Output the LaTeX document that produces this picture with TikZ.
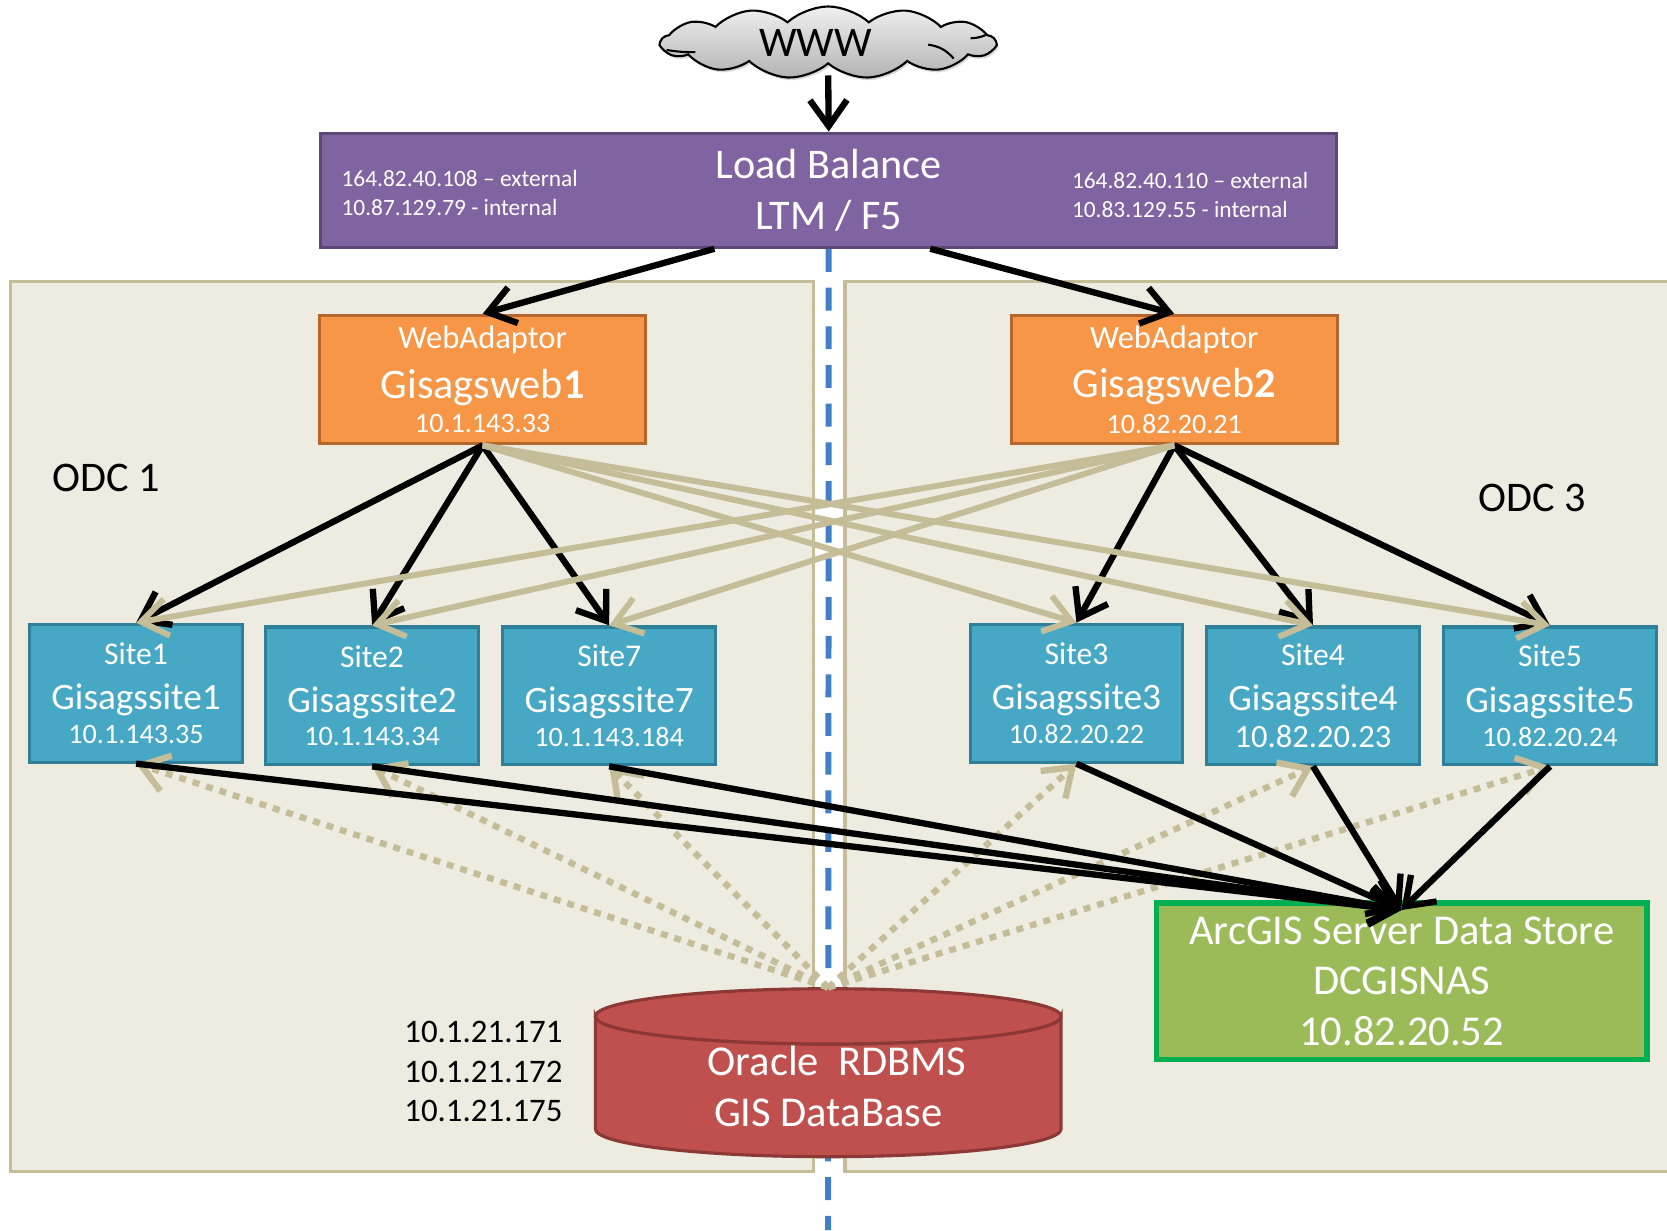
\documentclass[tikz,border=0pt]{standalone}
\usepackage{fontspec}
\setmainfont{Carlito}
\usetikzlibrary{arrows.meta,shapes.symbols,shadows}
\definecolor{panelfill}{HTML}{EEECE1}
\definecolor{tanline}{HTML}{C4BD97}
\definecolor{lbfill}{HTML}{8064A2}
\definecolor{lbline}{HTML}{5C4776}
\definecolor{webfill}{HTML}{F79646}
\definecolor{webline}{HTML}{B5662C}
\definecolor{sitefill}{HTML}{47A8C5}
\definecolor{siteline}{HTML}{2F7F98}
\definecolor{storefill}{HTML}{9BBB59}
\definecolor{storeline}{HTML}{00B050}
\definecolor{dbfill}{HTML}{C0504D}
\definecolor{dbline}{HTML}{8C3836}
\definecolor{midline}{HTML}{4080C8}
\newcommand{\fs}[1]{\fontsize{#1}{#1}\selectfont}
\begin{document}
\begin{tikzpicture}[x=0.02126cm,y=-0.02126cm]
        \tikzstyle{panel}=[draw=tanline,line width=2pt,fill=panelfill]
        \tikzstyle{box}=[draw,rectangle,inner sep=0,align=center,text=white]
        \tikzstyle{lb box}=[box,fill=lbfill,draw=lbline,line width=1.8pt,minimum width=578pt,minimum height=65pt]
        \tikzstyle{web box}=[box,fill=webfill,draw=webline,line width=1.8pt,minimum width=185.6pt,minimum height=73pt]
        \tikzstyle{site box}=[box,fill=sitefill,draw=siteline,line width=1.8pt,minimum width=121pt,minimum height=78.4pt]
        \tikzstyle{store box}=[box,fill=storefill,draw=storeline,line width=3pt,minimum width=279pt,minimum height=89pt]
        \tikzstyle{plain text}=[inner sep=0,align=left,text=black]
        \tikzstyle{small white}=[inner sep=0,align=left,text=white,anchor=west]
        \tikzstyle{db shape}=[draw=dbline,line width=1.8pt,fill=dbfill]
        \tikzstyle{black arrow}=[draw=black,line width=3.6pt,-{Straight Barb[length=5.2mm,width=7.4mm]}]
        \tikzstyle{tan arrow}=[draw=tanline,line width=3.4pt,-{Straight Barb[length=5.2mm,width=7.4mm]}]
        \tikzstyle{dotted arrow}=[draw=tanline,line width=3.6pt,dash pattern=on 4pt off 4pt,-{Straight Barb[length=5.2mm,width=7.4mm]}]

        \useasboundingbox (0,0) rectangle (1568,1157);
        \clip (0,0) rectangle (1568,1157);
        \fill[white] (0,0) rectangle (1568,1157);

        \draw[panel] (10,265) rectangle (765,1102);
        \draw[panel] (795,265) rectangle (1600,1102);

        \node(www)[cloud,cloud puffs=13,cloud puff arc=85,aspect=5.2,draw=black,line width=1.2pt,top color=gray!12,bottom color=gray!60,drop shadow={opacity=0.3,shadow xshift=1pt,shadow yshift=-1.5pt},inner sep=0,minimum width=190pt,minimum height=41pt] at (779,40){};
        \node(wwwtext)[inner sep=0,font=\fs{24}] at (767,40){WWW};
        \draw[line width=1.2pt] (627,47) to[bend right=5] (654,49);
        \draw[line width=1.2pt] (873,42) to[bend left=20] (897,55);
        \draw[line width=1.2pt] (913,36) to[bend right=10] (927,33);
        \node(lb)[lb box,font=\fs{24}] at (779.5,179){Load Balance\\[5pt]LTM / F5};
        \node(lbext1)[small white,font=\fs{13.3}] at (321,168){164.82.40.108 – external};
        \node(lbint1)[small white,font=\fs{13.3}] at (321,195){10.87.129.79 - internal};
        \node(lbext2)[small white,font=\fs{13.3}] at (1008,170){164.82.40.110 – external};
        \node(lbint2)[small white,font=\fs{13.3}] at (1008,197){10.83.129.55 - internal};

        \coordinate(lineend) at (779,1157);
        \draw[midline,line width=3.4pt,dash pattern=on 13pt off 9pt] (lb.south) -- (lineend);

        \node(web1)[web box] at (454,357){\fs{18.5}WebAdaptor\\[7.5pt]\fs{24}Gisagsweb\textbf{1}\\[4.2pt]\fs{16}10.1.143.33};
        \node(web2)[web box] at (1104.5,357){\fs{18.5}WebAdaptor\\[7.5pt]\fs{24}Gisagsweb\textbf{2}\\[4.2pt]\fs{16}10.82.20.21};

        \node(site1)[site box] at (128,652){\fs{18}Site1\\[10pt]\fs{21.2}Gisagssite1\\[4pt]\fs{16}10.1.143.35};
        \node(site2)[site box] at (350,654.5){\fs{18}Site2\\[10pt]\fs{21.2}Gisagssite2\\[4pt]\fs{16}10.1.143.34};
        \node(site7)[site box] at (573,654.5){\fs{18}Site7\\[10pt]\fs{21.2}Gisagssite7\\[4pt]\fs{16}10.1.143.184};
        \node(site3)[site box] at (1012.5,652){\fs{18}Site3\\[10pt]\fs{21.2}Gisagssite3\\[4pt]\fs{16}10.82.20.22};
        \node(site4)[site box] at (1235,654.5){\fs{18}Site4\\[10pt]\fs{21.2}Gisagssite4\\[4pt]\fs{18.5}10.82.20.23};
        \node(site5)[site box] at (1458,654.5){\fs{18}Site5\\[10pt]\fs{21.2}Gisagssite5\\[4pt]\fs{16}10.82.20.24};

        \node(store)[store box,font=\fs{24.2}] at (1318.5,923){ArcGIS Server Data Store\\[4.6pt]DCGISNAS\\[4.6pt]10.82.20.52};
        \draw[db shape] (560,956) -- (560,1062) arc[start angle=180,end angle=0,x radius=219,y radius=26] -- (998,956) arc[start angle=0,end angle=180,x radius=219,y radius=26] -- cycle;
        \draw[db shape] (779,956) ellipse[x radius=219,y radius=26];
        \node(db)[inner sep=0,align=center,text=white,font=\fs{24.2}] at (779,1022){\hspace*{10pt}Oracle\ \ RDBMS\\[4.6pt]GIS DataBase};
        \node(dbips)[plain text,font=\fs{18.7},anchor=west] at (380,1008){10.1.21.171\\[3.6pt]10.1.21.172\\[3.6pt]10.1.21.175};
        \node(odc1)[plain text,font=\fs{24}] at (100,450){ODC 1};
        \node(odc3)[plain text,font=\fs{24}] at (1441,468){ODC 3};

        \coordinate(wwwbottom) at (779,71);
        \coordinate(lbleft) at (672,234);
        \coordinate(lbright) at (875,234);
        \coordinate(dbtop) at (779,929);
        \coordinate(storetip) at (1318,856);

        \draw[black arrow] (wwwbottom) -- (lb.north);
        \draw[black arrow] (lbleft) -- (web1.north);
        \draw[black arrow] (lbright) -- (web2.north);

        \draw[black arrow] (web1.south) -- (site1.north);
        \draw[black arrow] (web1.south) -- (site2.north);
        \draw[black arrow] (web1.south) -- (site7.north);
        \draw[black arrow] (web2.south) -- (site3.north);
        \draw[black arrow] (web2.south) -- (site4.north);
        \draw[black arrow] (web2.south) -- (site5.north);

        \draw[tan arrow] (web1.south) -- (site3.north);
        \draw[tan arrow] (web1.south) -- (site4.north);
        \draw[tan arrow] (web1.south) -- (site5.north);
        \draw[tan arrow] (web2.south) -- (site1.north);
        \draw[tan arrow] (web2.south) -- (site2.north);
        \draw[tan arrow] (web2.south) -- (site7.north);

        \draw[dotted arrow] (dbtop) -- (site1.south);
        \draw[dotted arrow] (dbtop) -- (site2.south);
        \draw[dotted arrow] (dbtop) -- (site7.south);
        \draw[dotted arrow] (dbtop) -- (site3.south);
        \draw[dotted arrow] (dbtop) -- (site4.south);
        \draw[dotted arrow] (dbtop) -- (site5.south);

        \draw[black arrow] (site1.south) -- (storetip);
        \draw[black arrow] (site2.south) -- (storetip);
        \draw[black arrow] (site7.south) -- (storetip);
        \draw[black arrow] (site3.south) -- (storetip);
        \draw[black arrow] (site4.south) -- (storetip);
        \draw[black arrow] (site5.south) -- (storetip);
\end{tikzpicture}
\end{document}
